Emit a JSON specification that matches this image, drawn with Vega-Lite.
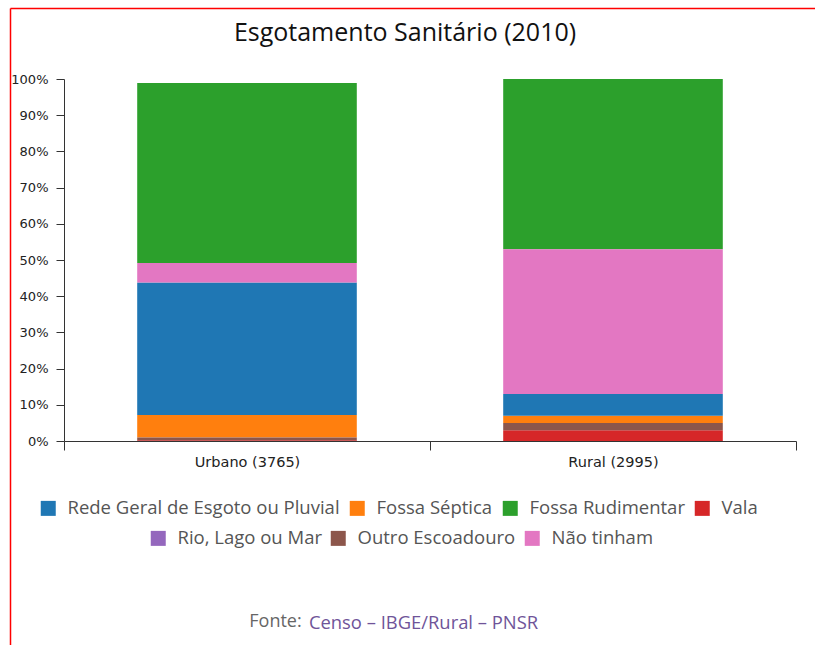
{
"$schema":"https://vega.github.io/schema/vega-lite/v6.json",
"autosize":{"type":"none"},
"padding":{"left":64,"top":79,"right":19,"bottom":204},
"width":732,"height":362,
"background":"white",
"config":{"view":{"stroke":null},"font":"Open Sans"},
"title":{"text":"Esgotamento Sanitário (2010)","anchor":"middle","frame":"group","dx":-25,"offset":-41,"fontSize":25,"fontWeight":"normal","font":"Open Sans","color":"#111"},
"datasets":{"esgoto":[
{"area":"Urbano (3765)","tipo":"Vala","ordem":1,"valor":0.2},
{"area":"Urbano (3765)","tipo":"Rio, Lago ou Mar","ordem":2,"valor":0},
{"area":"Urbano (3765)","tipo":"Outro Escoadouro","ordem":3,"valor":0.8},
{"area":"Urbano (3765)","tipo":"Fossa Séptica","ordem":4,"valor":6.2},
{"area":"Urbano (3765)","tipo":"Rede Geral de Esgoto ou Pluvial","ordem":5,"valor":36.6},
{"area":"Urbano (3765)","tipo":"Não tinham","ordem":6,"valor":5.4},
{"area":"Urbano (3765)","tipo":"Fossa Rudimentar","ordem":7,"valor":49.7},
{"area":"Rural (2995)","tipo":"Vala","ordem":1,"valor":3},
{"area":"Rural (2995)","tipo":"Rio, Lago ou Mar","ordem":2,"valor":0},
{"area":"Rural (2995)","tipo":"Outro Escoadouro","ordem":3,"valor":2},
{"area":"Rural (2995)","tipo":"Fossa Séptica","ordem":4,"valor":2},
{"area":"Rural (2995)","tipo":"Rede Geral de Esgoto ou Pluvial","ordem":5,"valor":6},
{"area":"Rural (2995)","tipo":"Não tinham","ordem":6,"valor":40},
{"area":"Rural (2995)","tipo":"Fossa Rudimentar","ordem":7,"valor":47}
],"quadro":[{"a":0,"b":0},{"a":1,"b":1}]},
"layer":[
{"data":{"name":"esgoto"},
"transform":[{"stack":"valor","groupby":["area"],"sort":[{"field":"ordem","order":"ascending"}],"as":["base","topo"]},
{"filter":"indexof(['Rede Geral de Esgoto ou Pluvial','Fossa Séptica','Fossa Rudimentar','Vala'],datum.tipo)>=0"}],
"mark":{"type":"bar","width":{"band":0.6}},
"encoding":{
"x":{"field":"area","type":"nominal","sort":["Urbano (3765)","Rural (2995)"],
"scale":{"domain":["Urbano (3765)","Rural (2995)"],"paddingInner":0,"paddingOuter":0},
"axis":{"title":"Censo – IBGE/Rural – PNSR","titleColor":"#6f5499","titleFont":"Open Sans","titleFontSize":18.4,"titleFontWeight":"normal","titleX":359,"titleY":172,"labelAngle":0,"labelFont":"DejaVu Sans","labelFontSize":14.5,"labelColor":"#222","labelPadding":5,"tickBand":"extent","tickSize":9,"tickColor":"#333","domainColor":"#333"}},
"y":{"field":"topo","type":"quantitative","scale":{"domain":[0,100],"nice":false},
"axis":{"title":null,"values":[0,10,20,30,40,50,60,70,80,90,100],"labelExpr":"datum.value+'%'","labelFont":"DejaVu Sans","labelFontSize":13,"labelColor":"#222","labelPadding":8,"tickSize":8,"tickColor":"#333","domainColor":"#333","grid":false}},
"y2":{"field":"base"},
"color":{"field":"tipo","type":"nominal","scale":{"domain":["Rede Geral de Esgoto ou Pluvial","Fossa Séptica","Fossa Rudimentar","Vala"],"range":["#1f77b4","#ff7f0e","#2ca02c","#d62728"]},
"legend":{"title":null,"orient":"none","legendX":-25,"legendY":420,"direction":"horizontal","symbolType":"square","symbolSize":225,"symbolStrokeWidth":0,"symbolOpacity":1,"labelFont":"Open Sans","labelFontSize":18.5,"labelColor":"#555","labelLimit":400,"labelOffset":10,"columnPadding":8}}
}},
{"data":{"name":"esgoto"},
"transform":[{"stack":"valor","groupby":["area"],"sort":[{"field":"ordem","order":"ascending"}],"as":["base","topo"]},
{"filter":"indexof(['Rio, Lago ou Mar','Outro Escoadouro','Não tinham'],datum.tipo)>=0"}],
"mark":{"type":"bar","width":{"band":0.6}},
"encoding":{
"x":{"field":"area","type":"nominal","scale":{"domain":["Urbano (3765)","Rural (2995)"],"paddingInner":0,"paddingOuter":0},"axis":null},
"y":{"field":"topo","type":"quantitative","scale":{"domain":[0,100],"nice":false},"axis":null},
"y2":{"field":"base"},
"color":{"field":"tipo","type":"nominal","scale":{"domain":["Rio, Lago ou Mar","Outro Escoadouro","Não tinham"],"range":["#9467bd","#8c564b","#e377c2"]},
"legend":{"title":null,"orient":"none","legendX":85,"legendY":450,"direction":"horizontal","symbolType":"square","symbolSize":225,"symbolStrokeWidth":0,"symbolOpacity":1,"labelFont":"Open Sans","labelFontSize":18.5,"labelColor":"#555","labelLimit":400,"labelOffset":10,"columnPadding":7}}
}},
{"data":{"name":"quadro"},
"mark":{"type":"point","opacity":0},
"encoding":{
"x":{"field":"a","type":"quantitative","scale":{"domain":[0,1],"range":[-54,751],"nice":false},
"axis":{"orient":"top","offset":71,"title":null,"labels":false,"ticks":false,"grid":false,"domainColor":"#ff0000","domainWidth":1.5}},
"y":{"field":"b","type":"quantitative","scale":{"domain":[0,1],"range":[566,-71],"nice":false},
"axis":{"orient":"left","offset":54,"title":"Fonte:","titleColor":"#666","titleFont":"Open Sans","titleFontSize":18,"titleFontWeight":"normal","titleAngle":0,"titleX":265,"titleY":551,"labels":false,"ticks":false,"grid":false,"domainColor":"#ff0000","domainWidth":1.5}}
}}
],
"resolve":{"scale":{"color":"independent","x":"independent","y":"independent"},"axis":{"x":"independent","y":"independent"},"legend":{"color":"independent"}}
}
